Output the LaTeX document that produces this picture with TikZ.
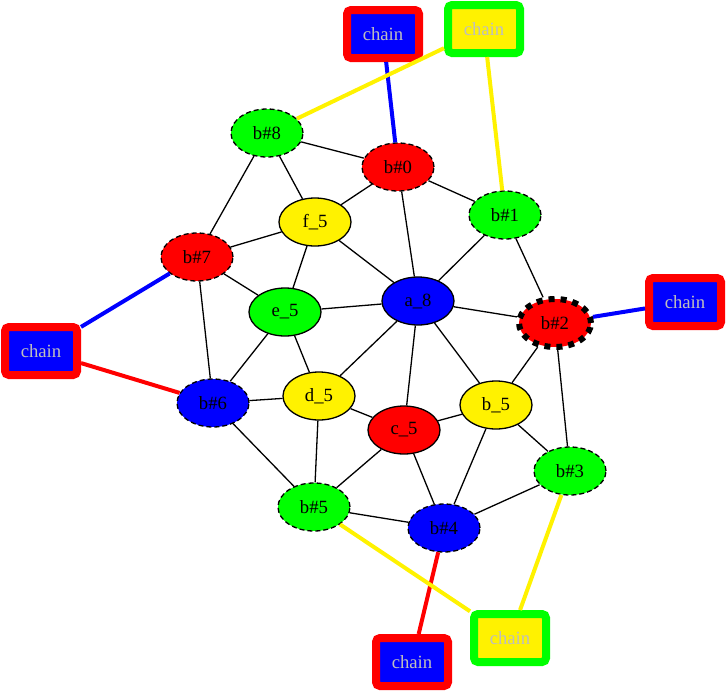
\documentclass[tikz,border=0pt]{standalone}
\usepackage{fontspec}
\setmainfont{Liberation Serif}
\usetikzlibrary{shapes.geometric}
\definecolor{chaingrey}{RGB}{190,190,190}

\begin{document}
\begin{tikzpicture}[x=1pt, y=-1pt, line width=1.3pt,
   knot/.style={ellipse, draw, minimum width=72pt, minimum height=48pt, inner sep=0pt, font=\fontsize{18.7}{20}\selectfont},
   bknot/.style={knot, dash pattern=on 5pt off 3pt},
   chainbox/.style={draw, line width=8pt, rounded corners=4pt, minimum width=72pt, minimum height=48pt, inner sep=0pt, text=chaingrey, font=\fontsize{18.7}{20}\selectfont},
   link/.style={line width=4pt}]
   \useasboundingbox (0, 0) rectangle (726, 691);

   % inner ring
   \node[knot, fill=blue] (a8) at (418, 301) {a\_8};
   \node[knot, fill=yellow] (b5) at (496, 405) {b\_5};
   \node[knot, fill=red] (c5) at (404, 430) {c\_5};
   \node[knot, fill=yellow] (d5) at (319, 396) {d\_5};
   \node[knot, fill=green] (e5) at (285, 312) {e\_5};
   \node[knot, fill=yellow] (f5) at (315, 222) {f\_5};

   % outer ring
   \foreach \id/\x/\y/\col in {0/398/167/red, 1/505/215/green, 3/570/471/green, 4/444/528/blue,
      5/314/507/green, 6/213/403/blue, 7/197/257/red, 8/267/133/green} {
    \node[bknot, fill=\col] (n\id) at (\x, \y) {b\#\id};
   }
   \node[knot, fill=red, line width=6pt, dash pattern=on 6pt off 6pt] (n2) at (555, 323) {b\#2};

   % chains
   \node[chainbox, draw=red, fill=blue] (chA) at (383, 34) {chain};
   \node[chainbox, draw=green, fill=yellow] (chB) at (484, 29) {chain};
   \node[chainbox, draw=red, fill=blue] (chC) at (685, 302) {chain};
   \node[chainbox, draw=red, fill=blue] (chD) at (41, 351) {chain};
   \node[chainbox, draw=red, fill=blue] (chE) at (412, 662) {chain};
   \node[chainbox, draw=green, fill=yellow] (chF) at (510, 638) {chain};

   \foreach \a/\b in {n8/n0, n8/f5, n8/n7, n0/f5, n0/n1, n0/a8, f5/n7, f5/e5, f5/a8, n1/a8, n1/n2,
      n7/e5, n7/n6, e5/a8, e5/n6, e5/d5, a8/n2, a8/d5, a8/c5, a8/b5, n2/b5, n2/n3, n6/d5, n6/n5,
      d5/c5, d5/n5, c5/b5, c5/n5, c5/n4, b5/n3, b5/n4, n3/n4, n5/n4} {
    \draw (\a) -- (\b);
   }

   \draw[link, blue] (chA) -- (n0);
   \draw[link, yellow] (chB) -- (n8);
   \draw[link, yellow] (chB) -- (n1);
   \draw[link, blue] (chC) -- (n2);
   \draw[link, blue] (chD) -- (n7);
   \draw[link, red] (chD) -- (n6);
   \draw[link, red] (chE) -- (n4);
   \draw[link, yellow] (chF) -- (n5);
   \draw[link, yellow] (chF) -- (n3);
  \end{tikzpicture}
\end{document}
